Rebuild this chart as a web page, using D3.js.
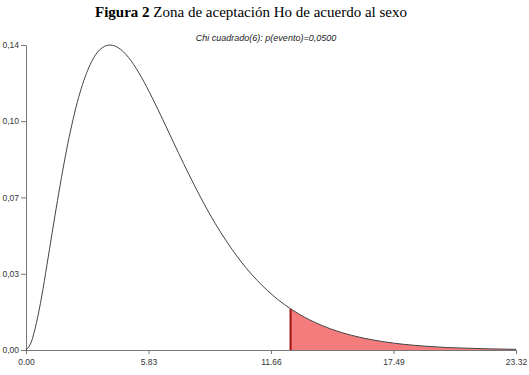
<html>
<head>
    <script src="https://d3js.org/d3.v7.min.js"></script>
    <style>
        body { margin: 0; background: #fff; }
        .title { font-family: "Liberation Serif", "Times New Roman", serif; font-size: 15px; text-anchor: middle; }
        .subtitle { font-family: "Liberation Sans", Arial, sans-serif; font-size: 9px; font-style: italic; text-anchor: middle; fill: #222; }
        .axis text { font-family: "Liberation Sans", Arial, sans-serif; font-size: 8.5px; fill: #333; }
        .axis path, .axis line { stroke: #777; }
    </style>
</head>
<body>
    <svg id="chart"></svg>
    <script>
        // chi-square(6) density
        const chiX = [0, 0.25, 0.5, 0.75, 1, 1.5, 2, 2.5, 3, 3.5, 4, 4.5, 5, 5.5, 6, 6.5, 7, 7.5, 8, 8.5, 9, 9.5, 10, 11, 12, 12.59, 13, 14, 15, 16, 17, 18, 19, 20, 21, 22, 23.32];
        const density = [0, 0.0035, 0.0122, 0.0239, 0.0379, 0.0664, 0.0920, 0.1119, 0.1255, 0.1331, 0.1353, 0.1334, 0.1283, 0.1209, 0.1120, 0.1024, 0.0925, 0.0827, 0.0733, 0.0644, 0.0562, 0.0488, 0.0421, 0.0309, 0.0223, 0.0183, 0.0159, 0.0112, 0.0078, 0.0054, 0.0037, 0.0025, 0.0017, 0.0011, 0.0008, 0.0005, 0.0003];
        const critical = 12.59;

        const xTicks = [0, 5.83, 11.66, 17.49, 23.32];
        const xTickLabels = ["0.00", "5.83", "11.66", "17.49", "23.32"];
        const yTicks = [0, 0.0338, 0.0677, 0.1015, 0.1353];
        const yTickLabels = ["0,00", "0,03", "0,07", "0,10", "0,14"];

        const width = 529, height = 375;
        const svg = d3.select("#chart").attr("width", width).attr("height", height);

        const x = d3.scaleLinear().domain([0, 23.32]).range([26, 516]);
        const y = d3.scaleLinear().domain([0, 0.1353]).range([350, 45]);

        const data = chiX.map((v, i) => ({ x: v, y: density[i] }));
        const tail = data.filter(d => d.x >= critical);

        svg.append("text")
            .attr("class", "title")
            .attr("x", 251)
            .attr("y", 17)
            .call(t => {
                t.append("tspan").attr("font-weight", "bold").text("Figura 2");
                t.append("tspan").text(" Zona de aceptación Ho de acuerdo al sexo");
            });

        svg.append("text")
            .attr("class", "subtitle")
            .attr("x", 266)
            .attr("y", 41)
            .text("Chi cuadrado(6): p(evento)=0,0500");

        const area = d3.area()
            .x(d => x(d.x))
            .y0(y(0))
            .y1(d => y(d.y))
            .curve(d3.curveMonotoneX);

        svg.append("path")
            .datum(tail)
            .attr("d", area)
            .attr("fill", "#f47c7c");

        // dark edge at the critical value
        svg.append("line")
            .attr("x1", x(critical)).attr("x2", x(critical))
            .attr("y1", y(0)).attr("y2", y(tail[0].y))
            .attr("stroke", "#a01010")
            .attr("stroke-width", 2);

        svg.append("g")
            .attr("class", "axis")
            .attr("transform", `translate(0,${y(0)})`)
            .call(d3.axisBottom(x).tickValues(xTicks).tickSize(4).tickSizeOuter(0)
                .tickFormat((d, i) => xTickLabels[i]))
            .call(g => g.selectAll("text").attr("dy", "0.9em"));

        svg.append("g")
            .attr("class", "axis")
            .attr("transform", `translate(${x(0)},0)`)
            .call(d3.axisLeft(y).tickValues(yTicks).tickSize(5).tickSizeOuter(0)
                .tickFormat((d, i) => yTickLabels[i]))
            .call(g => g.selectAll("text").attr("x", -7));

        const line = d3.line()
            .x(d => x(d.x))
            .y(d => y(d.y))
            .curve(d3.curveMonotoneX);

        svg.append("path")
            .datum(data)
            .attr("d", line)
            .attr("fill", "none")
            .attr("stroke", "#444")
            .attr("stroke-width", 1);
    </script>
</body>
</html>
